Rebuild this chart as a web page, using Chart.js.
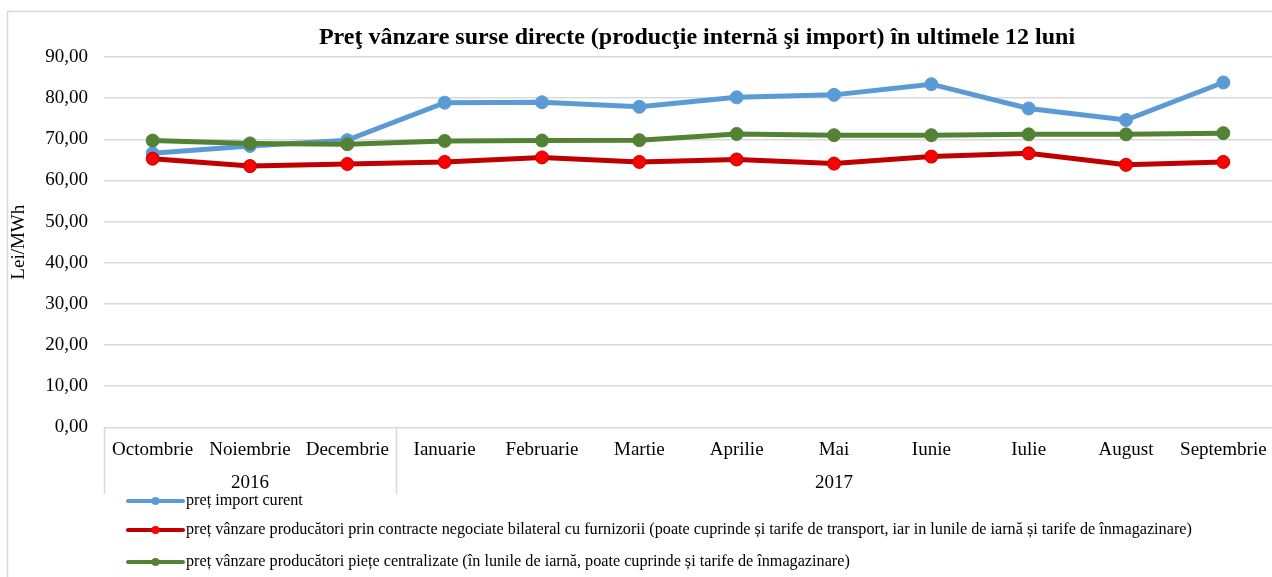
<!DOCTYPE html>
<html lang="ro">
<head>
<meta charset="utf-8">
<title>Preţ vânzare surse directe</title>
<script src="https://cdn.jsdelivr.net/npm/chart.js@4.4.1/dist/chart.umd.min.js"></script>
<style>
  html, body { margin: 0; padding: 0; background: #fff; overflow: hidden; }
  #chart-container { position: relative; width: 1272px; height: 577px; }
</style>
</head>
<body>
<div id="chart-container"><canvas id="priceChart"></canvas></div>
<script>
// Categories (two-level axis: month, then year group)
const months = [
  "Octombrie", "Noiembrie", "Decembrie", "Ianuarie", "Februarie", "Martie",
  "Aprilie", "Mai", "Iunie", "Iulie", "August", "Septembrie"
];
const yearLabels = ["", "2016", "", "", "", "", "", "2017", "", "", "", ""];
const yearGroupStarts = [0, 3]; // index of the first month of each year

// Series values (Lei/MWh)
const importPrice      = [66.6, 68.4, 69.8, 78.9, 79.0, 77.9, 80.2, 80.8, 83.4, 77.5, 74.7, 83.8];
const bilateralPrice   = [65.3, 63.5, 64.0, 64.5, 65.6, 64.5, 65.1, 64.1, 65.8, 66.6, 63.8, 64.5];
const centralizedPrice = [69.7, 69.0, 68.8, 69.6, 69.7, 69.8, 71.3, 71.0, 71.0, 71.2, 71.2, 71.5];

const seriesNames = [
  "preț import curent",
  "preț vânzare producători prin contracte negociate bilateral cu furnizorii (poate cuprinde și tarife de transport, iar in lunile de iarnă și tarife de înmagazinare)",
  "preț vânzare producători piețe centralizate (în lunile de iarnă, poate cuprinde și tarife de înmagazinare)"
];
const chartTitle = "Preţ vânzare surse directe (producţie internă şi import) în ultimele 12 luni";
const yTitle = "Lei/MWh";
const yMax = 90;
const yStep = 10;

// Colours
const blue = '#5b9bd5';
const red = '#ff0000';
const darkRed = '#c00000';
const green = '#548235';
const gridGrey = '#d9d9d9';
const serif = "'Liberation Serif', 'Times New Roman', serif";

// Frame round the whole chart (top + left edges visible)
const framePlugin = {
  id: 'frame',
  beforeDraw(chart) {
    const ctx = chart.ctx;
    ctx.save();
    ctx.strokeStyle = gridGrey;
    ctx.lineWidth = 1.5;
    ctx.beginPath();
    ctx.moveTo(7.5, chart.height + 2);
    ctx.lineTo(7.5, 11.5);
    ctx.lineTo(chart.width + 2, 11.5);
    ctx.stroke();
    ctx.restore();
  }
};

// Title (the original is centred on a wider frame that got cropped)
const titlePlugin = {
  id: 'customTitle',
  afterDraw(chart) {
    const ctx = chart.ctx;
    ctx.save();
    ctx.font = `bold 24px ${serif}`;
    ctx.fillStyle = '#000';
    ctx.textAlign = 'center';
    ctx.textBaseline = 'middle';
    ctx.fillText(chartTitle, 697, 38);
    ctx.restore();
  }
};

// Vertical separators between the year groups under the x axis
const yearSeparatorPlugin = {
  id: 'yearSeparators',
  afterDraw(chart) {
    const x = chart.scales.x;
    const yearAxis = chart.scales.xYear;
    const half = (x.getPixelForValue(1) - x.getPixelForValue(0)) / 2;
    const ctx = chart.ctx;
    ctx.save();
    ctx.strokeStyle = gridGrey;
    ctx.lineWidth = 1.5;
    yearGroupStarts.forEach(i => {
      const px = Math.round(x.getPixelForValue(i) - half) + 0.5;
      ctx.beginPath();
      ctx.moveTo(px, chart.chartArea.bottom);
      ctx.lineTo(px, yearAxis.bottom + 1);
      ctx.stroke();
    });
    ctx.restore();
  }
};

// Legend: one item per row, line sample with a dot, like the original
const legendPlugin = {
  id: 'rowLegend',
  afterDraw(chart) {
    const ctx = chart.ctx;
    const rows = [501, 530, 562];
    const x0 = 128, x1 = 183;
    ctx.save();
    ctx.font = `16.2px ${serif}`;
    ctx.textBaseline = 'middle';
    chart.data.datasets.forEach((ds, i) => {
      const y = rows[i];
      ctx.strokeStyle = ds.borderColor;
      ctx.lineWidth = 4;
      ctx.lineCap = 'round';
      ctx.beginPath();
      ctx.moveTo(x0, y);
      ctx.lineTo(x1, y);
      ctx.stroke();
      ctx.fillStyle = ds.pointBackgroundColor;
      ctx.beginPath();
      ctx.arc((x0 + x1) / 2, y, 4, 0, Math.PI * 2);
      ctx.fill();
      ctx.fillStyle = '#000';
      ctx.textAlign = 'left';
      ctx.fillText(ds.label, x1 + 3, y);
    });
    ctx.restore();
  }
};

function makeDataset(label, values, lineColor, dotColor, order) {
  return {
    label: label,
    data: values,
    borderColor: lineColor,
    borderWidth: 5,
    pointRadius: 6.5,
    pointHoverRadius: 6.5,
    pointBackgroundColor: dotColor,
    pointBorderColor: lineColor,
    pointBorderWidth: 1,
    tension: 0,
    order: order
  };
}

const tickFont = { family: serif, size: 19 };

// Category labels fit inside their slots, so drop the extra side padding
const noSidePadding = scale => { scale.paddingLeft = 0; scale.paddingRight = 0; };

const canvas = document.getElementById('priceChart');
const priceChart = new Chart(canvas.getContext('2d'), {
  type: 'line',
  data: {
    labels: months,
    datasets: [
      makeDataset(seriesNames[0], importPrice, blue, blue, 3),
      makeDataset(seriesNames[1], bilateralPrice, darkRed, red, 2),
      makeDataset(seriesNames[2], centralizedPrice, green, green, 1)
    ]
  },
  options: {
    responsive: true,
    maintainAspectRatio: false,
    animation: false,
    layout: {
      autoPadding: false,
      padding: { top: 57, right: 0, bottom: 84, left: 0 }
    },
    plugins: {
      legend: { display: false },
      title: { display: false },
      tooltip: { enabled: false }
    },
    scales: {
      x: {
        type: 'category',
        offset: true,
        grid: { display: false, drawTicks: false },
        border: { display: false },
        ticks: {
          autoSkip: false,
          maxRotation: 0,
          minRotation: 0,
          padding: 11,
          font: tickFont,
          color: '#000'
        },
        afterFit: noSidePadding
      },
      xYear: {
        type: 'category',
        position: 'bottom',
        labels: yearLabels,
        offset: true,
        grid: { display: false, drawTicks: false },
        border: { display: false },
        ticks: {
          autoSkip: false,
          maxRotation: 0,
          minRotation: 0,
          padding: -1,
          font: tickFont,
          color: '#000'
        },
        afterFit: noSidePadding
      },
      y: {
        min: 0,
        max: yMax,
        ticks: {
          stepSize: yStep,
          padding: 16,
          font: tickFont,
          color: '#000',
          callback: v => v.toFixed(2).replace('.', ',')
        },
        grid: { color: gridGrey, lineWidth: 1.5, drawTicks: false },
        border: { display: false },
        title: {
          display: true,
          text: yTitle,
          font: tickFont,
          color: '#000',
          padding: { top: 8, bottom: 0 }
        },
        afterFit: scale => { scale.width = 104; }
      }
    }
  },
  plugins: [framePlugin, titlePlugin, yearSeparatorPlugin, legendPlugin]
});
</script>
</body>
</html>
